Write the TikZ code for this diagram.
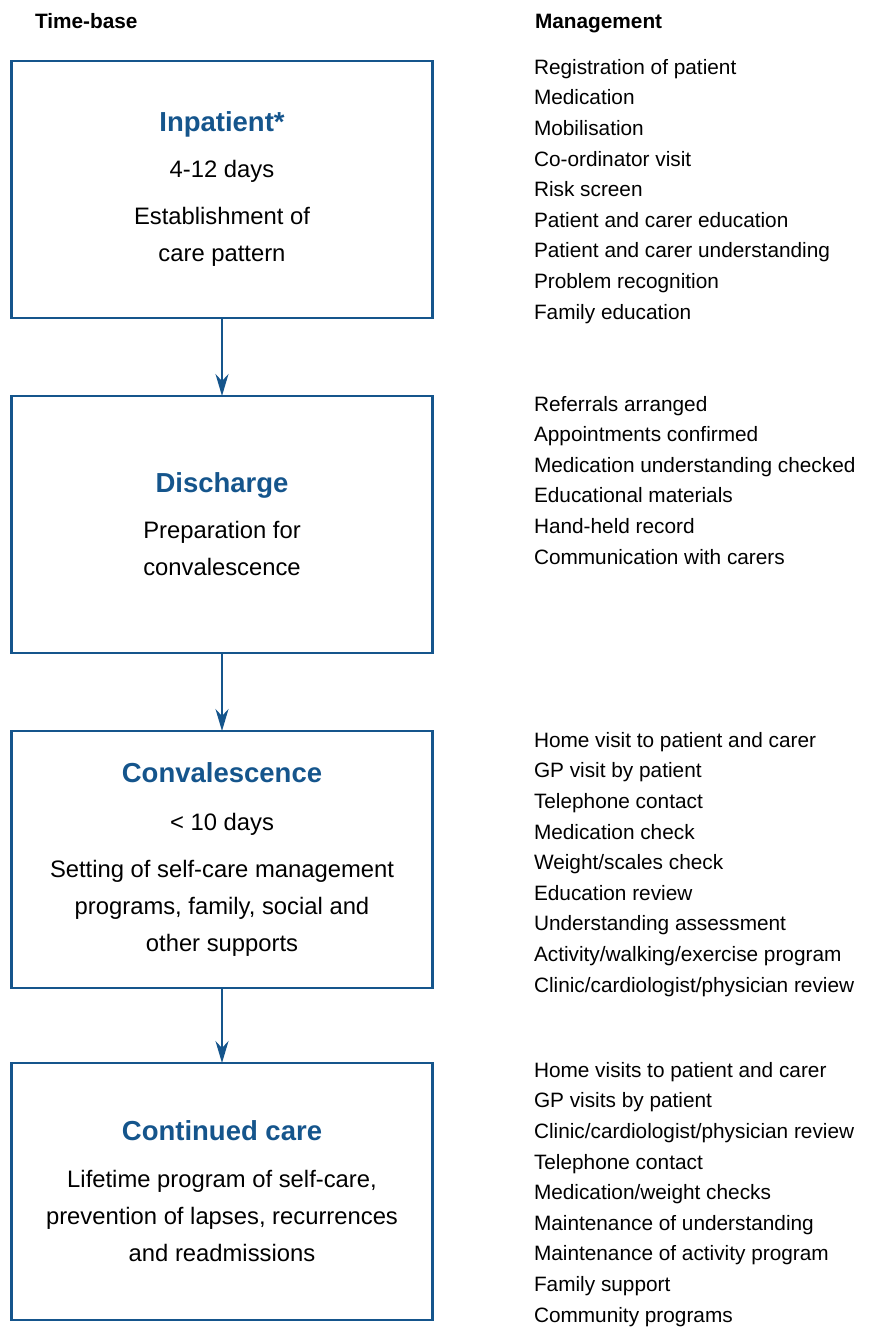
\documentclass[tikz,border=0pt]{standalone}
\usepackage{fontspec}
\setmainfont{Liberation Sans}
\usepackage{tikz}
\usetikzlibrary{positioning,arrows.meta}
\definecolor{phaseblue}{RGB}{21,85,140}

\begin{document}
\begin{tikzpicture}[node distance=78pt,outer sep=0pt,
phasebox/.style={
  draw=phaseblue,
  line width=2.4pt,
  minimum width=421pt,
  minimum height=257pt,
  align=center,
  font={\fontsize{23.8}{37}\selectfont}},
mgmtlist/.style={
  anchor=base west,
  inner sep=0pt,
  align=left,
  font={\fontsize{20.8}{30.6}\selectfont}},
colhead/.style={anchor=base west,inner sep=0pt,font={\fontsize{20.8}{22}\selectfont\bfseries}},
flow/.style={draw=phaseblue,line width=2pt,-{Stealth[length=22pt,width=13pt,inset=7pt]}},
]
\useasboundingbox (0,0) rectangle (879pt,-1327pt);

% column heads
\node[colhead] (tbase) at (35pt,-29pt) {Time-base};
\node[colhead] (mgmt) at (535pt,-29pt) {Management};

% phases
\node[phasebox] (inpat) at (222pt,-189.5pt) {{\fontsize{27.5}{32}\selectfont\bfseries\color{phaseblue}Inpatient*}\\[9pt]
4-12 days\\[10pt]
Establishment of\\care pattern};
\node[phasebox,below=of inpat] (disch) {{\fontsize{27.5}{32}\selectfont\bfseries\color{phaseblue}Discharge}\\[9pt]
Preparation for\\convalescence};
\node[phasebox,below=of disch] (conval) {{\fontsize{27.5}{32}\selectfont\bfseries\color{phaseblue}Convalescence}\\[11pt]
< 10 days\\[10pt]
Setting of self-care management\\programs, family, social and\\other supports};
\node[phasebox,below=75pt of conval] (contd) {{\fontsize{27.5}{32}\selectfont\bfseries\color{phaseblue}Continued care}\\[10pt]
Lifetime program of self-care,\\prevention of lapses, recurrences\\and readmissions};

\draw[flow] (inpat) -- (disch);
\draw[flow] (disch) -- (conval);
\draw[flow] (conval) -- (contd);

% management lists (anchored at the last line)
\node[mgmtlist] (mgmtA) at (534pt,-319pt) {Registration of patient\\Medication\\Mobilisation\\Co-ordinator visit\\Risk screen\\Patient and carer education\\Patient and carer understanding\\Problem recognition\\Family education};
\node[mgmtlist] (mgmtB) at (534pt,-564pt) {Referrals arranged\\Appointments confirmed\\Medication understanding checked\\Educational materials\\Hand-held record\\Communication with carers};
\node[mgmtlist] (mgmtC) at (534pt,-992pt) {Home visit to patient and carer\\GP visit by patient\\Telephone contact\\Medication check\\Weight/scales check\\Education review\\Understanding assessment\\Activity/walking/exercise program\\Clinic/cardiologist/physician review};
\node[mgmtlist] (mgmtD) at (534pt,-1322pt) {Home visits to patient and carer\\GP visits by patient\\Clinic/cardiologist/physician review\\Telephone contact\\Medication/weight checks\\Maintenance of understanding\\Maintenance of activity program\\Family support\\Community programs};
\end{tikzpicture}
\end{document}
